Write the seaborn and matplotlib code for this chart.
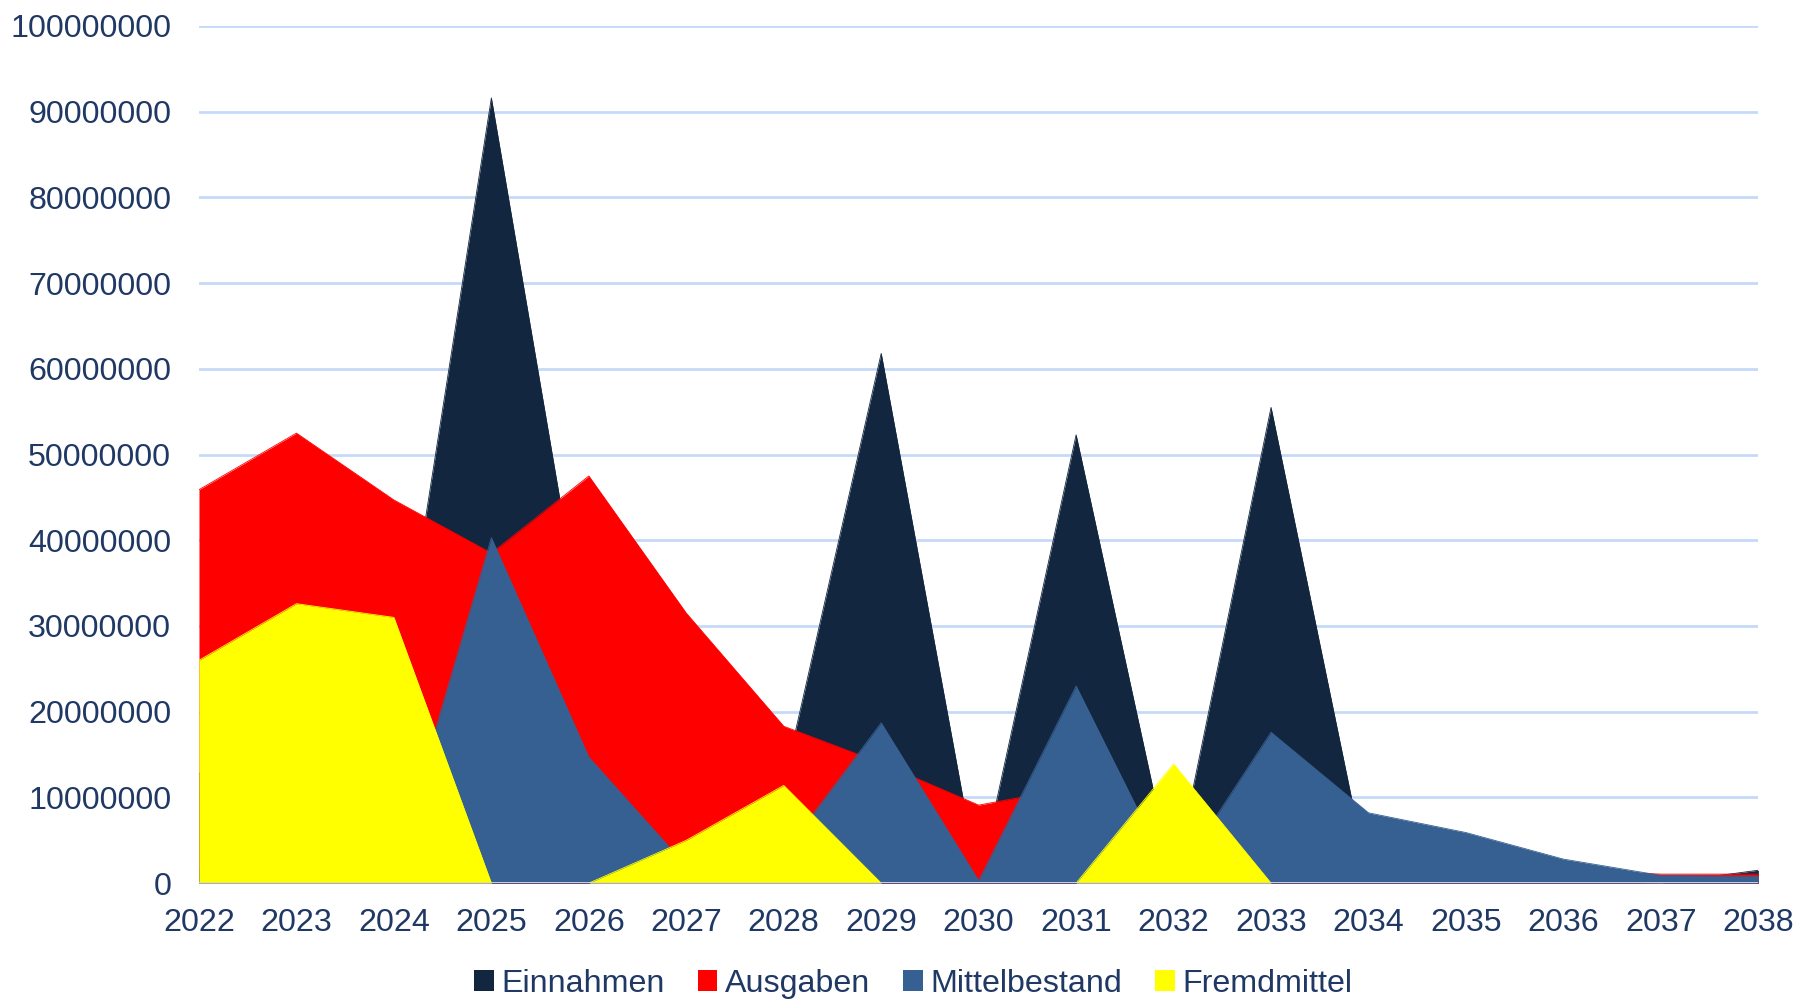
import matplotlib
matplotlib.use("Agg")
import matplotlib.pyplot as plt
import seaborn as sns
import numpy as np
import pandas as pd
from matplotlib.patches import Patch

years = list(range(2022, 2039))
einnahmen = [12.8, 15.0, 19.0, 91.6, 25.0, 15.0, 11.7, 61.8, 0.0, 52.3, 0.0, 55.5, 0.3, 0.5, 0.3, 0.0, 1.5]
ausgaben = [45.9, 52.5, 44.7, 38.5, 47.5, 31.5, 18.3, 14.0, 9.1, 11.2, 4.0, 3.0, 2.5, 2.0, 1.5, 1.05, 1.05]
mittelbestand = [1.5, 2.0, 1.3, 40.3, 14.7, 2.0, 3.5, 18.7, 0.3, 23.0, 0.2, 17.6, 8.2, 5.9, 2.8, 0.9, 0.8]
fremdmittel = [26.0, 32.6, 31.0, 0.0, 0.0, 5.0, 11.4, 0.0, 0.0, 0.0, 13.9, 0.0, 0.0, 0.0, 0.0, 0.0, 0.0]

series_names = ["Einnahmen", "Ausgaben", "Mittelbestand", "Fremdmittel"]
colors = ["#12263F", "#FF0000", "#376092", "#FFFF00"]
scale = 1_000_000

df = pd.DataFrame({
    "Jahr": years,
    "Einnahmen": np.array(einnahmen) * scale,
    "Ausgaben": np.array(ausgaben) * scale,
    "Mittelbestand": np.array(mittelbestand) * scale,
    "Fremdmittel": np.array(fremdmittel) * scale,
})

sns.set_theme(style="white")
plt.rcParams["font.family"] = ["Liberation Sans", "DejaVu Sans"]
text_color = "#1F3864"

fig = plt.figure(figsize=(18.09, 9.99), dpi=100)
ax = fig.add_axes([0.110, 0.116, 0.862, 0.858])

for name, col in zip(series_names, colors):
    ax.fill_between(df["Jahr"], 0, df[name], color=col, linewidth=0, zorder=2)
    sns.lineplot(x=df["Jahr"], y=df[name], ax=ax, color=col, linewidth=0.6, zorder=2, legend=False)

ax.set_xlim(2022, 2038)
ax.set_ylim(0, 100_000_000)
ax.set_yticks(np.arange(0, 100_000_001, 10_000_000))
ax.set_yticklabels([str(int(v)) for v in np.arange(0, 100_000_001, 10_000_000)])
ax.set_xticks(years)
ax.set_xticklabels([str(y) for y in years])
ax.set_xlabel("")
ax.set_ylabel("")

ax.yaxis.grid(True, color="#C6D9F8", linewidth=2.0, zorder=0)
ax.xaxis.grid(False)
ax.set_axisbelow(True)
for s in ax.spines.values():
    s.set_visible(False)
ax.axhline(0, color="#C6D9F8", linewidth=2.0, zorder=3)

ax.tick_params(axis="y", labelsize=23.2, labelcolor=text_color, length=0, pad=20)
ax.tick_params(axis="x", labelsize=23.2, labelcolor=text_color, length=0, pad=18)

handles = [Patch(facecolor=c, edgecolor="none", label=n) for n, c in zip(series_names, colors)]
fig.legend(handles=handles, loc="center", bbox_to_anchor=(0.505, 0.015), ncol=4,
           frameon=False, fontsize=23.2, labelcolor=text_color,
           handlelength=0.6, handleheight=0.6, handletextpad=0.25, columnspacing=1.02)

fig.savefig("out.png", dpi=100, facecolor="white")
